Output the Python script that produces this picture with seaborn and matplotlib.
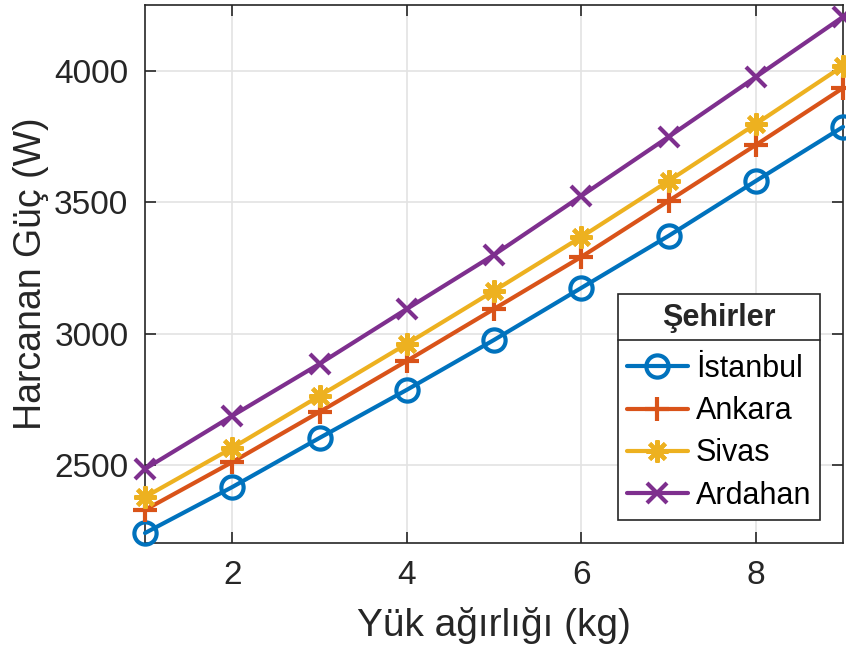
import matplotlib
matplotlib.use("Agg")
import matplotlib.pyplot as plt
from matplotlib.lines import Line2D
import seaborn as sns
import pandas as pd

# Load weight (kg) and power drawn (W) per city
yuk = [1, 2, 3, 4, 5, 6, 7, 8, 9]
istanbul = [2241, 2416, 2603, 2786, 2976, 3174, 3372, 3581, 3787]
ankara = [2329, 2511, 2702, 2896, 3094, 3292, 3505, 3718, 3935]
sivas = [2378, 2565, 2763, 2961, 3163, 3368, 3581, 3798, 4019]
ardahan = [2485, 2687, 2885, 3094, 3300, 3524, 3749, 3977, 4206]

sehirler = ["İstanbul", "Ankara", "Sivas", "Ardahan"]
degerler = [istanbul, ankara, sivas, ardahan]
renkler = ["#0072BD", "#D95319", "#EDB120", "#7E2F8E"]
isaretler = ["o", "+", (8, 2, 0), "x"]
isaret_boyu = [16, 17, 16, 14]

sns.set_theme(style="white")
plt.rcParams["font.family"] = ["Liberation Sans", "DejaVu Sans"]

fig = plt.figure(figsize=(8.46, 6.57), dpi=100)
ax = fig.add_axes([0.1714, 0.1735, 0.8251, 0.8189])

for ad, vals, renk, isaret, boy in zip(sehirler, degerler, renkler, isaretler, isaret_boyu):
    df = pd.DataFrame({"yuk": yuk, "guc": vals})
    sns.lineplot(data=df, x="yuk", y="guc", ax=ax, color=renk, linewidth=3,
                 marker=isaret, markersize=boy, markerfacecolor="none",
                 markeredgecolor=renk, markeredgewidth=3, label=ad,
                 clip_on=False, zorder=3)

ax.set_xlim(1, 9)
ax.set_ylim(2203, 4251)
ax.set_xticks([2, 4, 6, 8])
ax.set_yticks([2500, 3000, 3500, 4000])
ax.grid(True, color="#e3e3e3", linewidth=1.2)
ax.set_axisbelow(True)
for s in ax.spines.values():
    s.set_color("#262626")
    s.set_linewidth(1.2)
    s.set_visible(True)
ax.tick_params(axis="both", direction="in", length=8, width=1.2, color="#262626",
               labelsize=24, labelcolor="#262626", top=True, right=True,
               bottom=True, left=True, pad=12)
ax.set_xlabel("Yük ağırlığı (kg)", fontsize=28, color="#262626", labelpad=12)
ax.set_ylabel("Harcanan Güç (W)", fontsize=27, color="#262626", labelpad=4)

handles = [Line2D([], [], color=r, linewidth=3, marker=m, markersize=b,
                  markerfacecolor="none", markeredgecolor=r, markeredgewidth=3)
           for r, m, b in zip(renkler, isaretler, isaret_boyu)]
leg = ax.legend(handles, sehirler, title="Şehirler", loc="lower right",
                bbox_to_anchor=(0.9675, 0.043), fontsize=22,
                title_fontproperties={"weight": "bold", "size": 22},
                frameon=True, fancybox=False, framealpha=1, edgecolor="#262626",
                handlelength=2.0, handletextpad=0.25, labelspacing=0.40,
                borderpad=0.3, borderaxespad=0)
leg._legend_box.sep = 15
leg.get_frame().set_linewidth(1.2)
for t in leg.get_texts():
    t.set_color("black")

# Separator line under the legend title
fig.canvas.draw()
rend = fig.canvas.get_renderer()
lb = leg.get_window_extent(rend)
tb = leg.get_title().get_window_extent(rend)
ysep = tb.y0 - 7
W, H = fig.bbox.width, fig.bbox.height
fig.add_artist(Line2D([lb.x0 / W, lb.x1 / W], [ysep / H, ysep / H],
                      transform=fig.transFigure, color="#262626", linewidth=1.2,
                      zorder=10))

fig.savefig("out.png", dpi=100)
